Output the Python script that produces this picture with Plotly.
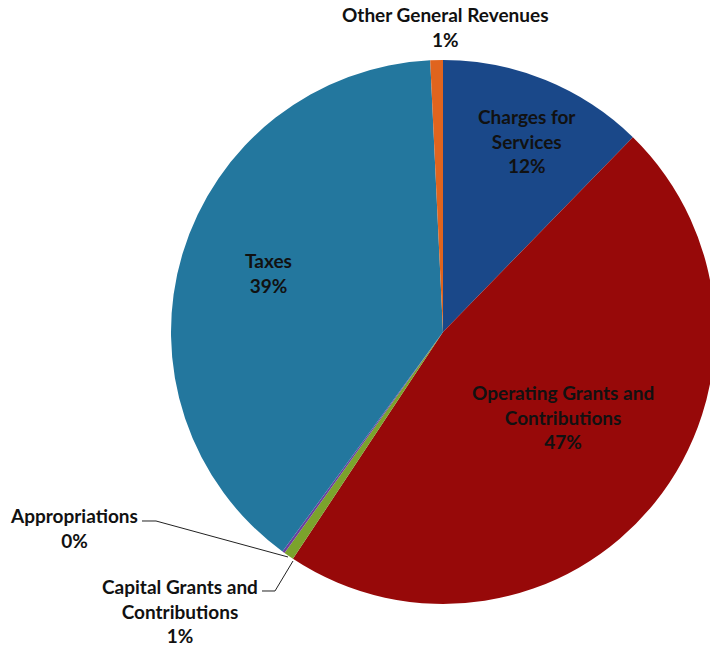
import plotly.graph_objects as go

# ---- data ----
categories = ["Charges for Services", "Operating Grants and Contributions",
              "Capital Grants and Contributions", "Appropriations",
              "Taxes", "Other General Revenues"]
wrapped_labels = ["Charges for<br>Services", "Operating Grants and<br>Contributions",
                  "Capital Grants and<br>Contributions", "Appropriations",
                  "Taxes", "Other General Revenues"]
values = [12.3, 47.0, 0.6, 0.15, 39.2, 0.75]
colors = ["#1A4889", "#970909", "#7BA32C", "#6A3FA0", "#23779E", "#E0641E"]

# ---- layout constants ----
W, H = 720, 649
CX, CY, R = 443, 332, 272
FONT = dict(family="Lato, 'Open Sans', sans-serif", size=19, color="#111111")

# label centres (pixels) for each category, in the same order
label_pos = [(527, 141), (563, 417), (180, 611), (74, 528), (268, 273), (445, 27)]

fig = go.Figure(go.Pie(
    labels=categories,
    values=values,
    sort=False,
    direction="clockwise",
    rotation=0,
    marker=dict(colors=colors, line=dict(width=0)),
    textinfo="none",
    hoverinfo="label+percent",
    showlegend=False,
    domain=dict(x=[(CX - R) / W, (CX + R) / W],
                y=[(H - CY - R) / H, (H - CY + R) / H]),
))

total = sum(values)
annotations = []
for lab, v, (px, py) in zip(wrapped_labels, values, label_pos):
    pct = round(v / total * 100)
    annotations.append(dict(
        x=px / W, y=1 - py / H, xref="paper", yref="paper",
        text=f"<b>{lab}<br>{pct}%</b>", showarrow=False,
        xanchor="center", yanchor="middle", align="center", font=FONT))

def pxpath(points):
    return "M " + " L ".join(f"{x / W:.5f},{1 - y / H:.5f}" for x, y in points)

shapes = [
    dict(type="path", xref="paper", yref="paper",
         path=pxpath([(142, 521), (156, 521), (288, 557)]),
         line=dict(color="#222222", width=1)),
    dict(type="path", xref="paper", yref="paper",
         path=pxpath([(262, 591), (275, 591), (293, 561)]),
         line=dict(color="#222222", width=1)),
]

fig.update_layout(
    width=W, height=H,
    margin=dict(l=0, r=0, t=0, b=0),
    paper_bgcolor="white", plot_bgcolor="white",
    annotations=annotations, shapes=shapes,
)

fig.write_html("out.html", post_script=(
    "document.documentElement.style.overflow='hidden';"
    "document.body.style.overflow='hidden';"
    "document.body.style.margin='0';"))
